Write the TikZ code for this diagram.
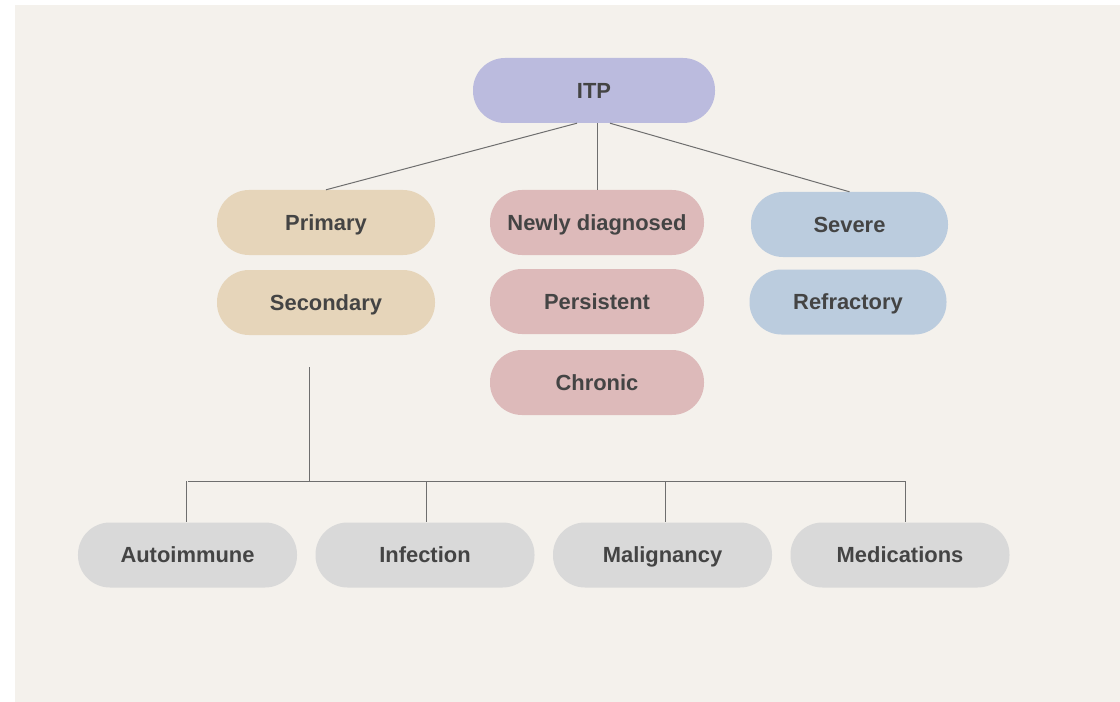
\documentclass[tikz,border=0pt]{standalone}
\usepackage{fontspec}
\setmainfont{Liberation Sans}
\usetikzlibrary{calc}

\begin{document}
\begin{tikzpicture}[x=1bp, y=-1bp,
    pill/.style={rectangle, rounded corners=32bp, minimum height=65bp, inner sep=0pt,
      text height=15.5bp, text depth=0pt, text=txtgray,
      font=\bfseries\fontsize{22}{26}\selectfont},
    link/.style={draw=linegray, line width=1bp}]
		\definecolor{paper}{RGB}{244, 241, 236}
		\definecolor{lavender}{RGB}{187, 187, 222}
		\definecolor{sand}{RGB}{230, 213, 186}
		\definecolor{rose}{RGB}{221, 186, 186}
		\definecolor{steel}{RGB}{187, 204, 222}
		\definecolor{cloud}{RGB}{217, 217, 217}
		\definecolor{txtgray}{RGB}{68, 68, 68}
		\definecolor{linegray}{RGB}{110, 110, 110}
		
		% 背景
		\useasboundingbox (0,0) rectangle (1120,702);
		\fill[paper] (15,5) rectangle (1120,702);
		
		% 顶层
		\node[pill, fill=lavender, minimum width=242bp] (itp) at (594,90.5) {ITP};
		
		% 第二层（三列）
		\node[pill, fill=sand, minimum width=218bp] (primary) at (326,222.5) {Primary};
		\node[pill, fill=sand, minimum width=218bp] (secondary) at (326,302.5) {Secondary};
		\node[pill, fill=rose, minimum width=214bp] (newly) at (597,222.5) {Newly diagnosed};
		\node[pill, fill=rose, minimum width=214bp] (persistent) at (597,301.5) {Persistent};
		\node[pill, fill=rose, minimum width=214bp] (chronic) at (597,382.5) {Chronic};
		\node[pill, fill=steel, minimum width=197bp] (severe) at (849.5,224.5) {Severe};
		\node[pill, fill=steel, minimum width=197bp] (refractory) at (848,302) {Refractory};
		
		% 底层
		\node[pill, fill=cloud, minimum width=219bp] (autoimmune) at (187.5,555) {Autoimmune};
		\node[pill, fill=cloud, minimum width=219bp] (infection) at (425,555) {Infection};
		\node[pill, fill=cloud, minimum width=219bp] (malignancy) at (662.5,555) {Malignancy};
		\node[pill, fill=cloud, minimum width=219bp] (medications) at (900,555) {Medications};
		
		% 连线
		\draw[link] ($(itp.south)+(-17,0)$) -- (primary.north);
		\draw[link] (newly.north |- itp.south) -- (newly.north);
		\draw[link] ($(itp.south)+(16,0)$) -- (severe.north);
		
		\coordinate (stem) at ($(secondary.south)+(-17,32)$);
		\coordinate (split) at ($(stem)+(0,114)$);
		\draw[link] (stem) -- (split);
		\draw[link] (autoimmune.north |- split) -- ($(medications.north |- split)+(5,0)$);
		\foreach \n/\dx in {autoimmune/-1, infection/1, malignancy/2.5, medications/5}
			\draw[link] ($(\n.north |- split)+(\dx,0)$) -- ($(\n.north)+(\dx,0)$);
	\end{tikzpicture}
\end{document}
